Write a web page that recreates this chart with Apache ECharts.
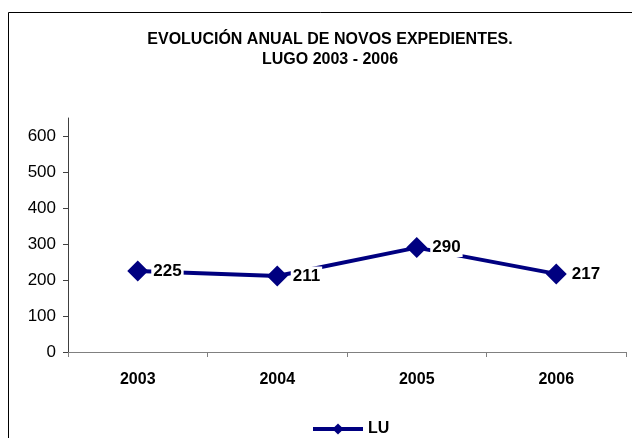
<!DOCTYPE html>
<html>
<head>
<meta charset="utf-8">
<script src="https://cdn.jsdelivr.net/npm/echarts@6/dist/echarts.min.js"></script>
<style>
  html, body { margin: 0; padding: 0; background: #fff; }
  #chart { width: 632px; height: 438px; }
</style>
</head>
<body>
<div id="chart"></div>
<script>
const years = ['2003', '2004', '2005', '2006'];
const luValues = [225, 211, 290, 217];
const yTicks = [0, 100, 200, 300, 400, 500, 600];

const chart = echarts.init(document.getElementById('chart'));

chart.setOption({
  animation: false,
  textStyle: { fontFamily: 'Liberation Sans, Arial, sans-serif' },
  title: {
    text: 'EVOLUCIÓN ANUAL DE NOVOS EXPEDIENTES.\nLUGO 2003 - 2006',
    left: 325,
    top: 25,
    textAlign: 'center',
    textStyle: { fontSize: 16, fontWeight: 'bold', color: '#000', lineHeight: 20 }
  },
  graphic: [{
    type: 'rect',
    shape: { x: 8.5, y: 12.5, width: 640, height: 440 },
    style: { fill: 'none', stroke: '#000', lineWidth: 1 },
    silent: true
  }],
  legend: {
    top: 416,
    left: 306,
    itemWidth: 50,
    itemHeight: 14,
    itemGap: 3,
    lineStyle: { width: 4 },
    textStyle: { fontSize: 16, fontWeight: 'bold', color: '#000' },
    data: ['LU']
  },
  grid: { left: 68, right: 6, top: 118, bottom: 86 },
  xAxis: {
    type: 'category',
    data: years,
    boundaryGap: true,
    axisLine: { lineStyle: { color: '#808080', width: 1 } },
    axisTick: { show: true, length: 5, lineStyle: { color: '#808080' } },
    axisLabel: { fontSize: 16, fontWeight: 'bold', color: '#000', margin: 20 }
  },
  yAxis: {
    type: 'value',
    min: 0,
    max: 650,
    splitLine: { show: false },
    axisLine: { show: true, lineStyle: { color: '#404040', width: 1 } },
    axisTick: { show: true, length: 5, customValues: yTicks, lineStyle: { color: '#404040' } },
    axisLabel: { fontSize: 17, color: '#000', margin: 12, customValues: yTicks }
  },
  series: [{
    name: 'LU',
    type: 'line',
    data: luValues,
    symbol: 'diamond',
    symbolSize: 21,
    itemStyle: { color: '#000080' },
    lineStyle: { color: '#000080', width: 4 },
    label: {
      show: true,
      position: 'right',
      distance: 3,
      fontSize: 17,
      fontWeight: 'bold',
      color: '#000',
      backgroundColor: '#fff',
      padding: [1, 2]
    }
  }]
});
</script>
</body>
</html>
